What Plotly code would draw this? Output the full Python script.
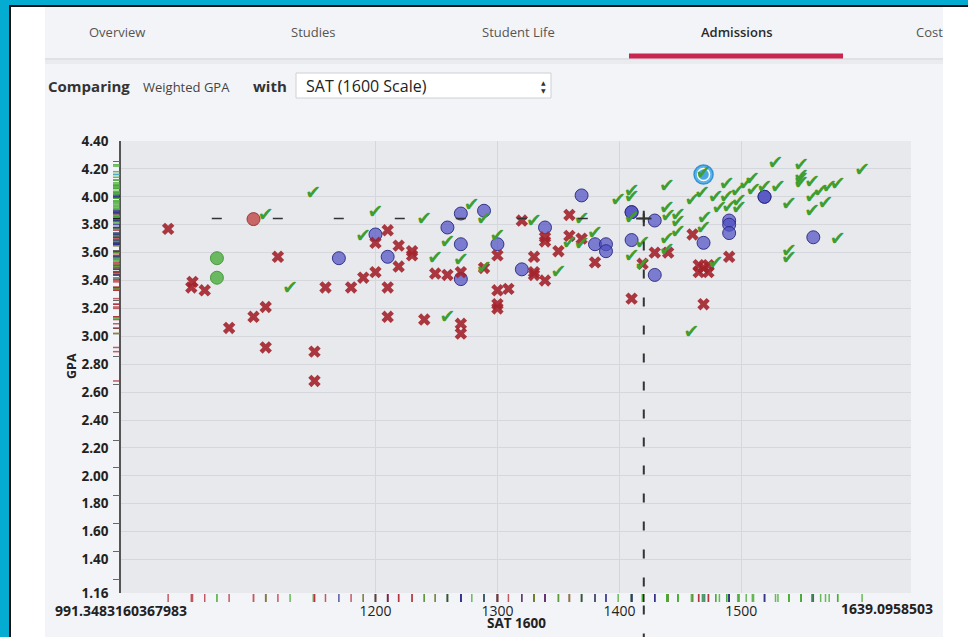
import plotly.graph_objects as go

# ---------------- data ----------------
denied_sat = [1030, 1050, 1049, 1060, 1080, 1100, 1110, 1110, 1120, 1150, 1150, 1159,
              1180, 1190, 1200, 1200, 1210, 1210, 1210, 1219, 1219, 1230, 1230, 1240,
              1249, 1259, 1270, 1270, 1270, 1289, 1300, 1300, 1300, 1300, 1309, 1320,
              1330, 1330, 1330, 1339, 1339, 1339, 1350, 1359, 1359, 1369, 1380, 1410,
              1419, 1429, 1440, 1460, 1465, 1473, 1465, 1473, 1469, 1469, 1490]
denied_gpa = [3.77, 3.39, 3.35, 3.33, 3.06, 3.14, 3.21, 2.92, 3.57, 2.89, 2.68, 3.35,
              3.35, 3.42, 3.46, 3.67, 3.76, 3.35, 3.14, 3.65, 3.50, 3.61, 3.58, 3.12,
              3.45, 3.44, 3.46, 3.09, 3.02, 3.49, 3.58, 3.33, 3.23, 3.20, 3.34, 3.83,
              3.57, 3.46, 3.44, 3.71, 3.68, 3.40, 3.61, 3.87, 3.72, 3.70, 3.53, 3.27,
              3.52, 3.60, 3.60, 3.73, 3.51, 3.51, 3.46, 3.46, 3.49, 3.23, 3.57]

waitlist_sat = [1170, 1200, 1210, 1259, 1270, 1270, 1270, 1289, 1300, 1320, 1339, 1369,
                1380, 1389, 1389, 1410, 1410, 1410, 1429, 1429, 1469, 1490, 1490, 1490,
                1519, 1519, 1559]
waitlist_gpa = [3.56, 3.73, 3.57, 3.78, 3.88, 3.66, 3.41, 3.90, 3.66, 3.48, 3.78, 4.01,
                3.66, 3.66, 3.61, 3.89, 3.89, 3.69, 3.83, 3.44, 3.67, 3.83, 3.80, 3.74,
                4.00, 4.00, 3.71]

accepted_sat = [1110, 1149, 1130, 1190, 1200, 1240, 1249, 1259, 1259, 1270, 1279, 1289,
                1289, 1300, 1330, 1350, 1359, 1369, 1369, 1380, 1399, 1410, 1410, 1410,
                1410, 1419, 1419, 1439, 1439, 1440, 1448, 1448, 1448, 1439, 1439, 1459,
                1460, 1468, 1470, 1469, 1469, 1479, 1479, 1482, 1488, 1488, 1490, 1497,
                1498, 1498, 1504, 1509, 1510, 1519, 1528, 1530, 1539, 1539, 1539, 1549,
                1549, 1549, 1549, 1558, 1558, 1558, 1565, 1569, 1572, 1579, 1579, 1599]
accepted_gpa = [3.86, 4.02, 3.34, 3.71, 3.88, 3.83, 3.55, 3.67, 3.13, 3.54, 3.93, 3.83,
                3.48, 3.71, 3.82, 3.45, 3.66, 3.83, 3.65, 3.73, 3.97, 4.03, 3.99, 3.84,
                3.57, 3.66, 3.50, 4.07, 3.91, 3.85, 3.86, 3.81, 3.74, 3.69, 3.61, 3.02,
                3.97, 4.02, 3.84, 3.77, 4.16, 3.52, 3.99, 3.91, 4.08, 3.99, 3.92, 4.03,
                3.96, 3.91, 4.08, 4.12, 4.04, 4.06, 4.23, 4.06, 3.94, 3.60, 3.55, 4.22,
                4.14, 4.12, 4.09, 4.10, 3.99, 3.89, 4.03, 3.95, 4.06, 4.08, 3.69, 4.18]

green_circle_sat = [1070, 1070]
green_circle_gpa = [3.56, 3.42]
red_circle_sat = [1100]
red_circle_gpa = [3.84]
highlight_sat = [1469]
highlight_gpa = [4.16]
you_sat = [1420]
you_gpa = [3.844]

x_min, x_max = 991.3483160367983, 1639.0958503
y_min, y_max = 1.16, 4.40
y_ticks = [4.40, 4.20, 4.00, 3.80, 3.60, 3.40, 3.20, 3.00, 2.80, 2.60, 2.40, 2.20,
           2.00, 1.80, 1.60, 1.40, 1.16]
x_ticks = [x_min, 1200, 1300, 1400, 1500]
x_tick_labels = ["<b>991.3483160367983</b>", "1200", "1300", "1400", "1500"]
x_max_label = "1639.0958503"

# ---------------- layout geometry ----------------
W, H = 968, 637
PL, PR, PT, PB = 121, 911, 141, 593
x_ppu = (PR - PL) / (x_max - x_min)
y_ppu = (PB - PT) / (y_max - y_min)


def px(x):
    return (x - PL) / (PR - PL)


def py(y):
    return (PB - y) / (PB - PT)


FONT = "Open Sans"
C_DENIED = "#a3232b"
C_ACC = "#3f9e2f"
C_WL_FILL = "rgba(80,80,195,0.72)"
C_WL_LINE = "rgba(40,40,130,0.9)"

fig = go.Figure()

fig.add_trace(go.Scatter(x=waitlist_sat, y=waitlist_gpa, mode="markers",
                         marker=dict(symbol="circle", size=13, color=C_WL_FILL,
                                     line=dict(color=C_WL_LINE, width=1)),
                         hoverinfo="skip", showlegend=False))
fig.add_trace(go.Scatter(x=green_circle_sat, y=green_circle_gpa, mode="markers",
                         marker=dict(symbol="circle", size=13, color="rgba(92,178,80,0.9)",
                                     line=dict(color="#4a9a40", width=1)),
                         hoverinfo="skip", showlegend=False))
fig.add_trace(go.Scatter(x=red_circle_sat, y=red_circle_gpa, mode="markers",
                         marker=dict(symbol="circle", size=13, color="rgba(196,88,88,0.9)",
                                     line=dict(color="#9c3a3a", width=1)),
                         hoverinfo="skip", showlegend=False))
fig.add_trace(go.Scatter(x=denied_sat, y=denied_gpa, mode="markers",
                         marker=dict(symbol="x", size=11, color=C_DENIED, opacity=0.9,
                                     line=dict(width=0)),
                         hoverinfo="skip", showlegend=False))
fig.add_trace(go.Scatter(x=highlight_sat, y=highlight_gpa, mode="markers",
                         marker=dict(symbol="circle", size=19, color="#5ab4ea",
                                     line=dict(color="#3592d2", width=1.5)),
                         hoverinfo="skip", showlegend=False))
fig.add_trace(go.Scatter(x=highlight_sat, y=highlight_gpa, mode="markers",
                         marker=dict(symbol="circle", size=12, color="#4aa6e2",
                                     line=dict(color="white", width=1.5)),
                         hoverinfo="skip", showlegend=False))
fig.add_trace(go.Scatter(x=accepted_sat, y=accepted_gpa, mode="text",
                         text=["✔"] * len(accepted_sat),
                         textfont=dict(size=19, color=C_ACC, family="DejaVu Sans"),
                         hoverinfo="skip", showlegend=False))
fig.add_trace(go.Scatter(x=you_sat, y=you_gpa, mode="markers",
                         marker=dict(symbol="cross-thin-open", size=11, color="#333",
                                     line=dict(width=2, color="#333")),
                         hoverinfo="skip", showlegend=False))

shift = 20 / y_ppu
fig.add_trace(go.Scatter(x=[x_min], y=[y_min + shift], yaxis="y2", mode="markers",
                         marker=dict(opacity=0), hoverinfo="skip", showlegend=False))

# ---------------- shapes ----------------
shapes = []


def rect(x0, y0, x1, y1, color, line=None, layer="above"):
    shapes.append(dict(type="rect", xref="paper", yref="paper",
                       x0=px(x0), x1=px(x1), y0=py(y0), y1=py(y1),
                       fillcolor=color, line=line or dict(width=0), layer=layer))


rect(0, 0, 45, H, "white")
rect(943, 0, W, H, "white")
rect(0, 0, 9, H, "#04acd2")
rect(0, 0, W, 5, "#04acd2")
rect(9, 5, 11, H, "#111111")
rect(9, 5, W, 7, "#111111")
rect(45, 58, 943, 60, "#e0e1e5")
rect(45, 60, 943, 64, "#eaebee")
rect(629, 53.5, 843, 58.5, "#c8254f")
rect(296, 73, 551, 98, "white", line=dict(color="#cfd0d5", width=1))

# rug marks along both axes, one per data point
rug_sets = [
    (denied_sat, denied_gpa, "rgba(175,40,50,0.75)"),
    (accepted_sat, accepted_gpa, "rgba(70,170,50,0.8)"),
    (waitlist_sat, waitlist_gpa, "rgba(50,50,140,0.8)"),
    (green_circle_sat, green_circle_gpa, "rgba(92,178,80,0.8)"),
    (red_circle_sat, red_circle_gpa, "rgba(196,88,88,0.8)"),
    (highlight_sat, highlight_gpa, "rgba(74,166,226,0.8)"),
    (you_sat, you_gpa, "rgba(20,20,20,0.9)"),
]
for sx, sy, col in rug_sets:
    for v in sy:
        shapes.append(dict(type="line", xref="paper", yref="y",
                           x0=px(PL - 8), x1=px(PL - 1), y0=v, y1=v,
                           line=dict(color=col, width=1.5), layer="above"))
    for v in sx:
        shapes.append(dict(type="line", xref="x", yref="paper",
                           x0=v, x1=v, y0=py(PB + 1), y1=py(PB + 9),
                           line=dict(color=col, width=1.5), layer="above"))

shapes.append(dict(type="line", xref="x", yref="y",
                   x0=you_sat[0] + 5 / x_ppu, x1=1060, y0=you_gpa[0], y1=you_gpa[0],
                   line=dict(color="#333", width=1.5, dash="10px,51px"), layer="above"))
shapes.append(dict(type="line", xref="x", yref="paper",
                   x0=you_sat[0], x1=you_sat[0],
                   y0=(you_gpa[0] - y_min) / (y_max - y_min) + 5 / (PB - PT),
                   y1=py(H),
                   line=dict(color="#333", width=2, dash="9px,19px"), layer="above"))

# ---------------- annotations ----------------
anns = []


def ann(text, x, y, size, color, weight="normal", xanchor="center", family=FONT, **kw):
    d = dict(text=text, xref="paper", yref="paper", x=px(x), y=py(y), xanchor=xanchor,
             yanchor="middle", showarrow=False,
             font=dict(size=size, color=color, family=family, weight=weight))
    d.update(kw)
    anns.append(d)


ann("Overview", 116.5, 32, 13, "#555")
ann("Studies", 313, 32, 13, "#555")
ann("Student Life", 518, 32, 13, "#555")
ann("Admissions", 736.5, 32, 13, "#2a2a2a", weight=600)
ann("Cost", 914, 32, 13, "#555", xanchor="left")
ann("Comparing", 46, 86, 15, "#333", weight="bold", xanchor="left")
ann("Weighted GPA", 141, 87, 13, "#444", xanchor="left")
ann("with", 251, 86, 15, "#333", weight="bold", xanchor="left")
ann("SAT (1600 Scale)", 304, 86, 16, "#222", xanchor="left")
ann("▲", 543, 82, 6, "#333", family="DejaVu Sans")
ann("▼", 543, 90, 6, "#333", family="DejaVu Sans")
ann("GPA", 71, 366, 12.5, "#222", weight="bold", textangle=-90)
ann("SAT 1600", 516, 623, 13.5, "#222", weight="bold")
anns.append(dict(text="<b>" + x_max_label + "</b>", xref="x", yref="paper", x=x_max,
                 y=py(608), xshift=-24, xanchor="center", yanchor="middle",
                 showarrow=False, font=dict(size=14, color="#222", family=FONT)))

y_tick_text = ["<b>%.2f</b>" % v if v in (y_min, y_max) else "%.2f" % v for v in y_ticks]

fig.update_layout(
    width=W, height=H,
    margin=dict(l=PL, r=W - PR, t=PT, b=H - PB, pad=0),
    paper_bgcolor="#f3f4f7",
    plot_bgcolor="#e8e9ed",
    showlegend=False,
    font=dict(family=FONT, color="#222"),
    xaxis=dict(range=[x_min, x_max], tickvals=x_ticks, ticktext=x_tick_labels,
               showgrid=True, gridcolor="#d6d7dc", gridwidth=1, zeroline=False,
               showline=False, ticks="outside", ticklen=5, tickcolor="rgba(0,0,0,0)",
               tickfont=dict(size=14, color="#222", family=FONT)),
    yaxis=dict(range=[y_min, y_max], tickvals=y_ticks, ticktext=y_tick_text,
               showgrid=True, gridcolor="#d6d7dc", gridwidth=1, zeroline=False,
               showline=True, linecolor="#555", linewidth=1.5,
               ticks="outside", ticklen=8, tickcolor="rgba(0,0,0,0)",
               tickfont=dict(size=13.5, color="#222", family=FONT, weight="bold")),
    yaxis2=dict(overlaying="y", side="left", anchor="x",
                range=[y_min + shift, y_max + shift],
                tickvals=[v for v in y_ticks if v != y_min],
                showticklabels=False, showgrid=False, zeroline=False, showline=False,
                ticks="outside", ticklen=7, tickcolor="#666", tickwidth=1),
    shapes=shapes,
    annotations=anns,
)

fig.write_html("out.html", config={"displayModeBar": False},
               post_script="document.body.style.margin='0';document.body.style.overflow='hidden';")
